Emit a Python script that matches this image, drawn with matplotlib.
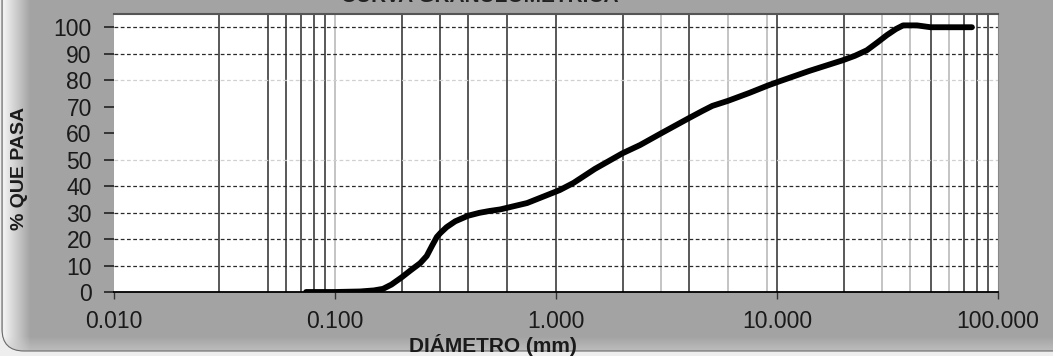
import numpy as np
import matplotlib
matplotlib.use("Agg")
import matplotlib.pyplot as plt
from matplotlib.patches import FancyBboxPatch
from matplotlib.ticker import FormatStrFormatter

# grain size curve (mm, % passing)
diametro = [0.074, 0.10, 0.13, 0.15, 0.165, 0.18, 0.20, 0.22, 0.243, 0.26, 0.275,
            0.289, 0.30, 0.32, 0.35, 0.40, 0.45, 0.50, 0.56, 0.74, 1.04, 1.20,
            1.5, 2.0, 2.4, 3.0, 4.0, 4.6, 5.1, 6.0, 7.5, 9.1, 10.2, 14.0, 19.8,
            22.5, 25.5, 28.5, 31.4, 34.5, 37.2, 43.0, 49.5, 76.2]
pasa = [0.0, 0.0, 0.2, 0.6, 1.2, 2.8, 5.5, 8.2, 10.9, 13.6, 17.5,
        20.8, 22.3, 24.5, 26.7, 28.8, 29.9, 30.6, 31.2, 33.6, 38.5, 41.2,
        46.5, 52.4, 55.5, 60.0, 65.7, 68.4, 70.3, 72.2, 75.2, 78.0, 79.5, 83.5, 87.5,
        89.2, 91.3, 94.3, 97.0, 99.3, 100.7, 100.7, 100.0, 100.0]

# vertical reference lines
lineas_oscuras = [0.03, 0.05, 0.06, 0.07, 0.08, 0.09, 0.2, 0.3, 0.4, 0.6, 1.0,
                  2.0, 4.0, 10.0, 20.0, 50.0, 70.0, 80.0, 90.0]
lineas_claras = [0.1, 3.0, 6.0, 9.0, 30.0, 40.0, 60.0]
y_oscuras = [10, 20, 30, 40, 90, 100]
y_claras = [50, 80]
x_ticks = [0.01, 0.1, 1, 10, 100]
y_ticks = list(range(0, 101, 10))

W, H = 1053, 356
fig = plt.figure(figsize=(W / 100, H / 100), dpi=100, facecolor="#eeeeee")

# background frame with shading
bg = fig.add_axes([0, 0, 1, 1], zorder=-5)
bg.set_xlim(0, W)
bg.set_ylim(H, 0)
bg.axis("off")
xs = np.arange(W)
left = np.clip((xs - 4) / 26.0, 0, 1)
img = np.tile(240 - (240 - 163) * left, (H, 1))
img[:, :3] = 200
ys = np.arange(H)
bot = np.clip((ys - 336) / 14.0, 0, 1)
img = img + (205 - img) * bot[:, None] * 0.6
rgb = np.dstack([img, img, img]) / 255.0
im = bg.imshow(rgb, extent=[0, W, H, 0], aspect="auto", interpolation="bilinear")
frame = FancyBboxPatch((2, -40), 1100, 391, boxstyle="round,pad=0,rounding_size=22",
                       transform=bg.transData, facecolor="none", edgecolor="#6a6a6a", lw=0.8)
bg.add_patch(frame)
im.set_clip_path(frame)

ax = fig.add_axes([114 / W, 1 - 292 / H, (998 - 114) / W, (292 - 14) / H])
ax.set_facecolor("white")
ax.set_xscale("log")
ax.set_xlim(0.01, 100)
ax.set_ylim(0, 105)

for v in lineas_claras:
    ax.axvline(v, color="#b4b4b4", lw=1.1, zorder=1)
for v in lineas_oscuras:
    ax.axvline(v, color="#3c3c3c", lw=1.2, zorder=1)
for v in y_oscuras:
    ax.axhline(v, color="#2a2a2a", lw=0.9, ls=(0, (3, 2)), zorder=2)
for v in y_claras:
    ax.axhline(v, color="#d0d0d0", lw=0.9, ls=(0, (3, 2)), zorder=2)

ax.plot(diametro, pasa, color="black", lw=4.2, solid_capstyle="round",
        solid_joinstyle="round", zorder=5)

ax.set_xticks(x_ticks)
ax.xaxis.set_major_formatter(FormatStrFormatter("%.3f"))
ax.minorticks_off()
ax.set_yticks(y_ticks)
ax.tick_params(axis="y", direction="out", length=7, width=1.2, color="#222222",
               pad=9, labelsize=16.5, labelcolor="#1a1a1a")
ax.tick_params(axis="x", direction="out", length=5, width=1.0, color="#333333",
               pad=8, labelsize=16.5, labelcolor="#1a1a1a")
for lab in ax.get_xticklabels() + ax.get_yticklabels():
    lab.set_family("Liberation Sans")

ax.spines["left"].set_visible(False)
ax.spines["top"].set_color("#555555")
ax.spines["top"].set_linewidth(1.5)
ax.spines["right"].set_color("#888888")
ax.spines["bottom"].set_color("black")
ax.spines["bottom"].set_linewidth(1.3)

fig.text(20 / W, 1 - 168 / H, "% QUE PASA", rotation=90, ha="center", va="center",
         fontsize=14, fontweight="bold", family="Liberation Sans", color="#1a1a1a")
fig.text(493 / W, 1 - 345 / H, "DIÁMETRO (mm)", ha="center", va="center",
         fontsize=15, fontweight="bold", family="Liberation Sans", color="#1a1a1a")
# title sits mostly above the visible area, as in the reference
fig.text(480 / W, 0.9955, "CURVA GRANULOMÉTRICA", ha="center", va="baseline",
         fontsize=15, fontweight="bold", family="Liberation Sans", color="#222222")

fig.savefig("out.png", dpi=100, facecolor=fig.get_facecolor())
